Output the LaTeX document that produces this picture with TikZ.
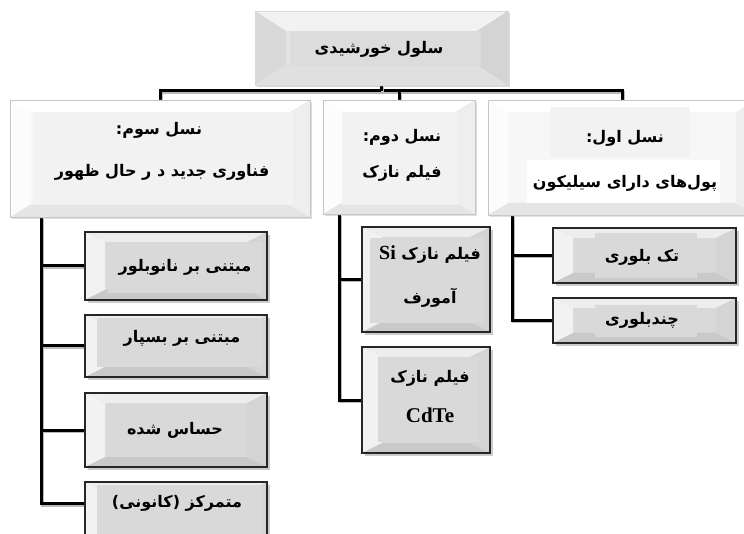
\documentclass[tikz,border=0pt]{standalone}
\usepackage{fontspec}
\usetikzlibrary{calc,shadows,backgrounds}
\TeXXeTstate=1
\newfontfamily\farsi[Script=Arabic]{DejaVu Sans}
\newfontfamily\latf{Liberation Serif}
\newcommand{\fatext}[1]{\beginR #1\endR}
\definecolor{topIn}{HTML}{DCDCDC}
\definecolor{lvlIn}{HTML}{F2F2F2}
\definecolor{chIn}{HTML}{D9D9D9}
\begin{document}
\begin{tikzpicture}[x=1pt,y=-1pt,
  bev/.style n args={6}{path picture={
    \coordinate (pNW) at (path picture bounding box.north west);
    \coordinate (pNE) at (path picture bounding box.north east);
    \coordinate (pSW) at (path picture bounding box.south west);
    \coordinate (pSE) at (path picture bounding box.south east);
    \fill[#3] (pNW) -- (pNE) -- ($(pNE)+(-#1pt,-#2pt)$) -- ($(pNW)+(#1pt,-#2pt)$) -- cycle;
    \fill[#4] (pNW) -- ($(pNW)+(#1pt,-#2pt)$) -- ($(pSW)+(#1pt,#2pt)$) -- (pSW) -- cycle;
    \fill[#5] (pSW) -- ($(pSW)+(#1pt,#2pt)$) -- ($(pSE)+(-#1pt,#2pt)$) -- (pSE) -- cycle;
    \fill[#6] (pNE) -- (pSE) -- ($(pSE)+(-#1pt,#2pt)$) -- ($(pNE)+(-#1pt,-#2pt)$) -- cycle;
  }},
  boxbase/.style={rectangle, inner sep=0pt},
  titlebox/.style={boxbase, draw=gray!30, line width=0.6pt, fill=gray!22,
    bev={31}{20}{gray!10}{gray!30}{gray!24}{gray!34},
    drop shadow={shadow xshift=2pt, shadow yshift=-2.5pt, opacity=0.3}},
  lvlbox/.style={boxbase, draw=gray!45, line width=0.7pt, fill=gray!6,
    bev={20}{12}{white}{gray!2}{gray!20}{gray!13},
    drop shadow={shadow xshift=1.5pt, shadow yshift=-2pt, opacity=0.25}},
  childbox/.style={boxbase, draw=black!85, line width=1.1pt, fill=gray!30,
    bev={20}{10}{gray!14}{gray!10}{gray!42}{gray!34},
    drop shadow={shadow xshift=2.5pt, shadow yshift=-3pt, opacity=0.4}},
  inrect/.style={boxbase, draw=none},
  txt/.style={inner sep=0pt, font=\farsi\bfseries\fontsize{16}{19}\selectfont},
  ltxt/.style={inner sep=0pt, font=\latf\bfseries\fontsize{21}{24}\selectfont},
  conn/.style={line width=3pt, black,
    preaction={draw=gray!55, line width=3pt, transform canvas={shift={(1.2pt,-1.5pt)}}}}
]
\useasboundingbox (0,0) rectangle (744,534);

% title
\node[titlebox, minimum width=253pt, minimum height=74pt] (T) at (381.5,48) {};
\node[inrect, fill=topIn, minimum width=191pt, minimum height=35pt] (Ti) at (385.5,48.5) {};
\node[txt] (Tt) at (379,49) {\fatext{سلول خورشیدی}};

% level 1 boxes
\node[lvlbox, minimum width=300pt, minimum height=117pt] (L) at (160,158.5) {};
\node[inrect, fill=lvlIn, minimum width=260pt, minimum height=93pt] (Li) at (163,158.5) {};
\node[txt] (Lt1) at (159,130) {\fatext{نسل سوم:}};
\node[txt] (Lt2) at (162,172) {\fatext{فناوری جدید د ر حال ظهور}};

\node[lvlbox, minimum width=152pt, minimum height=114pt] (M) at (399,157) {};
\node[inrect, fill=lvlIn, minimum width=116pt, minimum height=93pt] (Mi) at (400,158.5) {};
\node[txt] (Mt1) at (402,137) {\fatext{نسل دوم:}};
\node[txt] (Mt2) at (402,173) {\fatext{فیلم نازک}};

\node[lvlbox, minimum width=268pt, minimum height=115pt] (R) at (622,157.5) {};
\node[inrect, fill=lvlIn, minimum width=140pt, minimum height=50pt] (Ri1) at (620,132) {};
\node[inrect, fill=white, minimum width=193pt, minimum height=43pt] (Ri2) at (623.5,181.5) {};
\node[txt] (Rt1) at (625,138) {\fatext{نسل اول:}};
\node[txt] (Rt2) at (625,183) {\fatext{پول‌های دارای سیلیکون}};

% third generation children
\node[childbox, minimum width=182pt, minimum height=68pt] (c1) at (176,266) {};
\node[inrect, fill=chIn, minimum width=154pt, minimum height=51pt] (c1i) at (185,267.5) {};
\node[txt] (c1t) at (185,267) {\fatext{مبتنی بر نانوبلور}};

\node[childbox, minimum width=182pt, minimum height=62pt] (c2) at (176,346) {};
\node[inrect, fill=chIn, minimum width=165pt, minimum height=49pt] (c2i) at (179.5,342.5) {};
\node[txt] (c2t) at (182,338) {\fatext{مبتنی بر بسپار}};

\node[childbox, minimum width=182pt, minimum height=74pt] (c3) at (176,430) {};
\node[inrect, fill=chIn, minimum width=101pt, minimum height=45pt] (c3i) at (177.5,429.5) {};
\node[txt] (c3t) at (175,430) {\fatext{حساس شده}};

\node[childbox, minimum width=182pt, minimum height=63pt] (c4) at (176,513.5) {};
\node[inrect, fill=chIn, minimum width=165pt, minimum height=55pt] (c4i) at (179.5,512.5) {};
\node[txt] (c4t) at (177,503) {\fatext{متمرکز (کانونی)}};

% second generation children
\node[childbox, minimum width=128pt, minimum height=105pt] (m1) at (426,279.5) {};
\node[inrect, fill=chIn, minimum width=114pt, minimum height=85pt] (m1i) at (427,280.5) {};
\node[txt] (m1t1) at (430,255) {\fatext{فیلم نازک {\latf\fontsize{20}{24}\selectfont\beginL Si\endL}}};
\node[txt] (m1t2) at (430,298) {\fatext{آمورف}};

\node[childbox, minimum width=128pt, minimum height=106pt] (m2) at (426,400) {};
\node[inrect, fill=chIn, minimum width=101pt, minimum height=85pt] (m2i) at (428.5,399.5) {};
\node[txt] (m2t1) at (430,378) {\fatext{فیلم نازک}};
\node[ltxt] (m2t2) at (430,415) {CdTe};

% first generation children
\node[childbox, minimum width=183pt, minimum height=55pt] (r1) at (644.5,255.5) {};
\node[inrect, fill=chIn, minimum width=102pt, minimum height=45pt] (r1i) at (646,255.5) {};
\node[txt] (r1t) at (642,257) {\fatext{تک بلوری}};

\node[childbox, minimum width=183pt, minimum height=45pt] (r2) at (644.5,320.5) {};
\node[inrect, fill=chIn, minimum width=102pt, minimum height=32pt] (r2i) at (646,321) {};
\node[txt] (r2t) at (642,320) {\fatext{چندبلوری}};

\begin{pgfonlayer}{background}
\fill[white] (0,0) rectangle (744,534);
% bus
\draw[conn] (L.north) -- ++(0,-9) coordinate (busL) -| (R.north);
\draw[conn] (T.south) -- (T.south |- busL);
\draw[conn] (M.north) -- (M.north |- busL);
% left group
\coordinate (Lj) at ([xshift=32pt]L.south west);
\draw[conn] (Lj) |- ([yshift=10pt]c4.west);
\draw[conn] (Lj |- c1.west) -- (c1.west);
\draw[conn] (Lj |- c2.west) -- (c2.west);
\draw[conn] (Lj |- c3.west) -- (c3.west);
% middle group
\coordinate (Mj) at ([xshift=17pt]M.south west);
\draw[conn] (Mj) |- (m2.west);
\draw[conn] (Mj |- m1.west) -- (m1.west);
% right group
\coordinate (Rj) at ([xshift=25pt]R.south west);
\draw[conn] (Rj) |- (r2.west);
\draw[conn] (Rj |- r1.west) -- (r1.west);
\end{pgfonlayer}
\end{tikzpicture}
\end{document}
